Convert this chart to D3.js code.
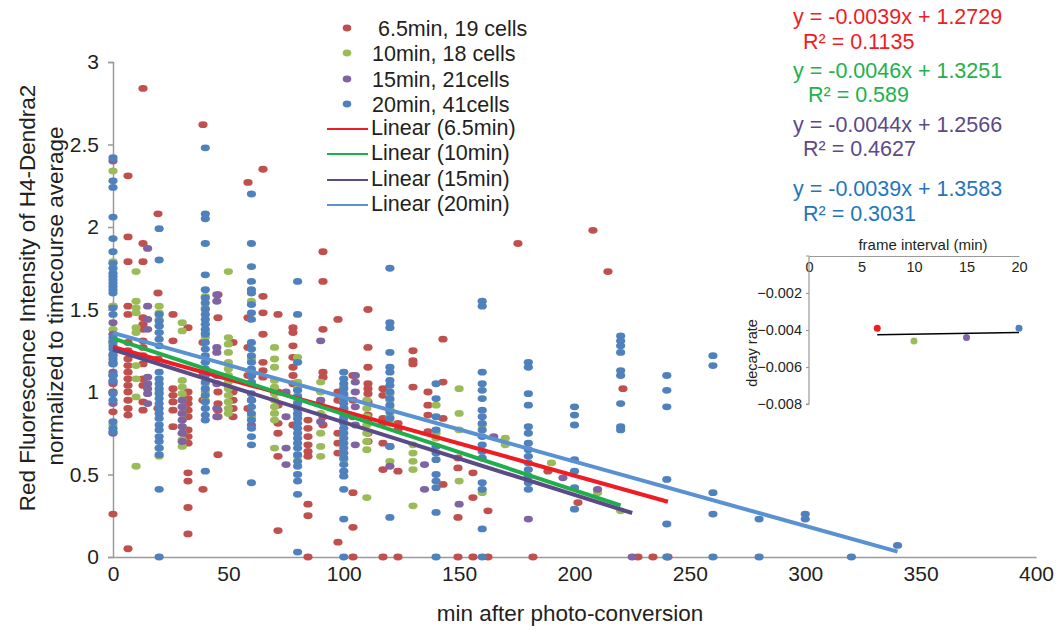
<!DOCTYPE html>
<html><head><meta charset="utf-8">
<script src="https://cdn.jsdelivr.net/npm/d3@7"></script>
<style>
body{margin:0;background:#fff}
text{font-family:"Liberation Sans",Arial,sans-serif;fill:#231f20}
</style>
</head><body>
<svg id="chart" width="1061" height="631"></svg>
<script>
// ---------------- data ----------------
const seriesNames = ["6.5min", "10min", "15min", "20min"];
const legendLabels = ["\u00a06.5min, 19 cells", "10min, 18 cells", "15min, 21cells", "20min, 41cells"];
const trendLabels = ["Linear (6.5min)", "Linear (10min)", "Linear (15min)", "Linear (20min)"];
const slopes = [-0.0039, -0.0046, -0.0044, -0.0039];
const intercepts = [1.2729, 1.3251, 1.2566, 1.3583];
const eqLabels = ["y = -0.0039x + 1.2729", "y = -0.0046x + 1.3251", "y = -0.0044x + 1.2566", "y = -0.0039x + 1.3583"];
const r2Labels = ["R\u00b2 = 0.1135", "R\u00b2 = 0.589", "R\u00b2 = 0.4627", "R\u00b2 = 0.3031"];

const xTicks = [0, 50, 100, 150, 200, 250, 300, 350, 400];
const yTicks = [0, 0.5, 1, 1.5, 2, 2.5, 3];

const times65 = [0, 6.5, 13, 19.5, 26, 32.5, 39, 45.5, 52, 58.5, 65, 71.5, 78, 84.5, 91, 97.5, 104, 110.5, 117, 123.5, 130, 136.5, 143, 149.5, 156, 162.5, 175.5, 182, 188.5, 201.5, 208, 214.5, 221, 227.5, 234, 240.5];
const vals65 = [
  [1.52, 1.3, 1.22, 1.1, 1.05, 0.88, 0.26],
  [2.31, 1.94, 1.79, 1.52, 1.47, 1.3, 1.25, 1.2, 1.16, 1.12, 1.08, 1.04, 1.0, 0.95, 0.9, 0.86, 0.05],
  [2.84, 1.9, 1.79, 1.45, 1.41, 1.38, 1.31, 1.27, 1.22, 1.17, 1.08, 1.04, 0.94, 0.89],
  [2.08, 1.6, 1.2, 0.9],
  [1.47, 1.31, 1.02, 0.98, 0.94, 0.89, 0.79],
  [1.39, 1.0, 0.96, 0.93, 0.89, 0.85, 0.77, 0.73, 0.69, 0.51, 0.46, 0.3, 0.14],
  [2.62, 1.3, 1.1, 0.95, 0.41],
  [1.59, 1.45, 1.0, 0.93, 0.89, 0.85, 0.62],
  [1.3, 1.0, 0.95, 0.9, 0.85],
  [2.27, 1.45, 1.27, 1.1, 0.9],
  [2.35, 1.58, 1.48, 1.35, 1.18, 1.13, 1.09],
  [1.47, 1.0, 0.92, 0.81, 0.75, 0.61, 0.16],
  [1.39, 1.36, 1.28, 1.21, 1.15, 1.1, 1.05, 0.8],
  [0.83, 0.78, 0.73, 0.68, 0.64, 0.61, 0.32, 0.25, 0],
  [1.85, 1.67, 1.38, 1.12, 1.09, 0.85, 0.8],
  [1.44, 1.0, 0.95, 0.75, 0.69, 0.63, 0.09],
  [1.1, 0.95, 0.85, 0.39, 0.18, 0],
  [1.5, 1.27, 1.15, 1.05, 1.02, 0.99, 0.94, 0.86, 0.83, 0.75, 0.7],
  [1.02, 0.98, 0.84, 0.81, 0.69, 0.53, 0],
  [0.81, 0.77, 0.52, 0],
  [1.25, 1.19, 1.17, 1.03],
  [1.0, 0.92, 0.86, 0.76],
  [1.32, 1.06, 0.84, 0.44],
  [0.6, 0.54, 0.24, 0],
  [0.51, 0.36, 0],
  [0.28, 0],
  [1.9],
  [0],
  [0.52],
  [0.33],
  [1.98],
  [1.73],
  [1.02],
  [0],
  [0],
  [0]
];

const times10 = [0, 10, 20, 30, 40, 50, 60, 70, 80, 90, 100, 110, 120, 130, 140, 150, 160, 170, 190, 210, 220];
const vals10 = [
  [2.34, 1.79, 1.52, 1.38, 1.3, 1.17, 1.1, 1.0, 0.8],
  [1.73, 1.55, 1.51, 1.48, 1.39, 1.36, 1.16, 1.08, 0.97, 0.55],
  [1.52, 1.48, 1.44, 1.4, 1.36, 1.0, 0.66, 0.61],
  [1.42, 1.37, 1.07, 1.03, 0.99, 0.95, 0.91, 0.87, 0.83, 0.79, 0.75, 0.71, 0.67],
  [1.58, 1.51, 1.36, 1.33, 1.18, 1.12, 1.05, 1.0, 0.95],
  [1.73, 1.33, 1.29, 1.24, 1.18, 1.14, 1.1, 1.06, 1.02, 0.98, 0.94, 0.9, 0.87],
  [1.55, 1.2, 1.1, 0.95, 0.85],
  [1.27, 1.2, 1.15, 1.07, 1.03, 0.99, 0.95, 0.91, 0.87, 0.83, 0.66],
  [1.21, 1.06, 1.02, 0.98, 0.94, 0.9, 0.86, 0.61],
  [1.06, 1.0, 0.93, 0.87, 0.75, 0.67, 0.61],
  [1.03, 0.98, 0.95, 0.9, 0.85, 0.63, 0.59],
  [0.95, 0.9, 0.85, 0.8, 0.75, 0.7, 0.65, 0.36],
  [0.99, 0.95, 0.9, 0.85, 0.81, 0.58],
  [0.68, 0.63, 0.58, 0.53, 0.31],
  [0.92, 0.75, 0.72],
  [1.02, 0.87, 0.77, 0.46],
  [0.8, 0.39],
  [0.72, 0.68],
  [0.57],
  [0.39],
  [0.28]
];

const times15 = [0, 15, 30, 45, 60, 75, 90, 105, 120, 135, 150, 165, 180, 195, 210, 225];
const vals15 = [
  [2.4, 1.42, 1.35, 1.18, 1.12, 1.06, 1.0, 0.93, 0.75],
  [1.87, 1.52, 1.44, 1.38, 1.09, 1.05, 1.02, 0.99, 0.93],
  [0.95, 0.91, 0.87, 0.83, 0.79, 0.75, 0.7],
  [1.59, 1.55, 1.27, 1.24, 1.1, 1.05, 0.9, 0.85],
  [1.1, 0.95, 0.8],
  [1.0, 0.85, 0.66, 0.56],
  [1.31, 0.95, 0.82],
  [1.1, 1.06, 1.0, 0.91, 0.8, 0.68],
  [0.67, 0.55],
  [0.56, 0.41],
  [0.32],
  [0.73],
  [0.23],
  [0.48],
  [0.41],
  [0]
];

const times20 = [0, 20, 40, 60, 80, 100, 120, 140, 160, 180, 200, 220, 240, 260, 280, 300, 320, 340];
const vals20 = [
  [2.42, 2.28, 2.24, 2.06, 1.93, 1.85, 1.78, 1.75, 1.72, 1.7, 1.68, 1.66, 1.64, 1.62, 1.6, 1.51, 1.47, 1.33, 1.31, 1.28, 1.26, 1.23, 1.2, 1.17, 1.1, 1.07, 0.99, 0.95, 0.82, 0.78, 0.76],
  [1.99, 1.8, 1.47, 1.43, 1.4, 1.36, 1.32, 1.28, 1.12, 1.08, 1.05, 1.02, 0.99, 0.96, 0.93, 0.9, 0.87, 0.84, 0.8, 0.77, 0.73, 0.7, 0.66, 0.62, 0.41, 0],
  [2.48, 2.08, 2.05, 1.9, 1.71, 1.62, 1.57, 1.54, 1.5, 1.47, 1.44, 1.41, 1.38, 1.35, 1.3, 1.26, 1.22, 1.18, 1.14, 1.1, 1.06, 1.02, 0.98, 0.94, 0.9, 0.86, 0.83, 0.52],
  [2.2, 1.9, 1.76, 1.67, 1.62, 1.6, 1.53, 1.48, 1.44, 1.3, 1.26, 1.22, 1.18, 1.14, 1.1, 1.06, 0.99, 0.95, 0.91, 0.87, 0.83, 0.78, 0.73, 0.68, 0.45],
  [1.67, 1.47, 1.18, 1.01, 0.97, 0.93, 0.9, 0.87, 0.84, 0.81, 0.78, 0.75, 0.72, 0.69, 0.66, 0.62, 0.58, 0.55, 0.5, 0.46, 0.38, 0.03],
  [1.12, 1.08, 1.05, 1.02, 0.99, 0.96, 0.93, 0.9, 0.87, 0.84, 0.81, 0.78, 0.75, 0.72, 0.69, 0.66, 0.63, 0.6, 0.56, 0.52, 0.49, 0.41, 0.23, 0],
  [1.75, 1.42, 1.39, 1.24, 1.15, 1.12, 1.07, 1.04, 1.0, 0.96, 0.92, 0.88, 0.84, 0.67, 0.24],
  [1.05, 0.96, 0.85, 0.77, 0.67, 0.63, 0.59, 0.5, 0.46, 0.42, 0.27, 0],
  [1.55, 1.52, 1.12, 1.05, 1.01, 0.96, 0.89, 0.85, 0.81, 0.77, 0.73, 0.68, 0.64, 0.6, 0.45, 0.41, 0.17, 0],
  [1.18, 1.15, 0.99, 0.92, 0.79, 0.75, 0.69, 0.65, 0.61, 0.57, 0.53, 0.49, 0.45, 0.41],
  [0.91, 0.86, 0.8, 0.59, 0.52, 0.42, 0.29],
  [1.34, 1.31, 1.28, 1.24, 1.13, 1.1, 0.93, 0.79, 0.77],
  [1.1, 1.01, 0.91, 0.47, 0.2, 0],
  [1.22, 1.16, 0.39, 0.26, 0],
  [0.23, 0],
  [0.26, 0.23],
  [0],
  [0.07]
];

// inset data: frame interval vs decay rate
const insetIntervals = [6.5, 10, 15, 20];
const insetRates = [-0.0039, -0.0046, -0.0044, -0.0039];
const insetXTicks = [0, 5, 10, 15, 20];
const insetYTicks = [-0.002, -0.004, -0.006, -0.008];

// ---------------- styles ----------------
const FONT = '"Liberation Sans", Arial, sans-serif';
const pointColors = ["#c0504d", "#9bbb59", "#8064a2", "#4f81bd"];
const lineColors = ["#ee1c24", "#1fae4b", "#5b4a86", "#5a91d2"];
const eqColors = ["#ee1c24", "#22b14c", "#5c4a88", "#1f76bc"];
const insetColors = ["#ee1c24", "#9bbb59", "#8064a2", "#4f81bd"];
const axisColor = "#9a9a9a";

const svg = d3.select("#chart");
const x = d3.scaleLinear().domain([0, 400]).range([113, 1036]);
const y = d3.scaleLinear().domain([0, 3]).range([557, 62]);

const allTimes = [times65, times10, times15, times20];
const allVals = [vals65, vals10, vals15, vals20];

// axes
const yAxis = svg.append("g").attr("transform", `translate(${x(0)},0)`)
  .call(d3.axisLeft(y).tickValues(yTicks).tickSize(5).tickPadding(9).tickFormat(d3.format("")));
yAxis.select(".domain").attr("stroke", axisColor).attr("stroke-width", 1.5);
yAxis.selectAll(".tick line").attr("stroke", axisColor).attr("stroke-width", 1.5);
yAxis.selectAll(".tick text").style("font-size", "21px").style("font-family", FONT).attr("fill", "#231f20");

const xAxis = svg.append("g").attr("transform", `translate(0,${y(0)})`)
  .call(d3.axisBottom(x).tickValues(xTicks).tickSize(0).tickPadding(9).tickFormat(d3.format("")));
xAxis.select(".domain").attr("stroke", axisColor).attr("stroke-width", 1.5);
xAxis.selectAll(".tick text").style("font-size", "21px").style("font-family", FONT).attr("fill", "#231f20");

// points
allTimes.forEach((times, si) => {
  const pts = [];
  times.forEach((t, i) => allVals[si][i].forEach(v => pts.push([t, v])));
  svg.append("g").selectAll("ellipse").data(pts).join("ellipse")
    .attr("cx", d => x(d[0])).attr("cy", d => y(d[1]))
    .attr("rx", 4.6).attr("ry", 3.4)
    .attr("fill", pointColors[si]);
});

// trend lines
allTimes.forEach((times, si) => {
  const x0 = d3.min(times), x1 = d3.max(times);
  svg.append("line")
    .attr("x1", x(x0)).attr("y1", y(intercepts[si] + slopes[si] * x0))
    .attr("x2", x(x1)).attr("y2", y(intercepts[si] + slopes[si] * x1))
    .attr("stroke", lineColors[si]).attr("stroke-width", 4);
});

// axis titles
svg.append("text").attr("transform", "translate(27,298) rotate(-90)")
  .attr("text-anchor", "middle").attr("dominant-baseline", "central")
  .style("font-size", "22.5px").text("Red Fluorescence Intensity of H4-Dendra2");
svg.append("text").attr("transform", "translate(55,296) rotate(-90)")
  .attr("text-anchor", "middle").attr("dominant-baseline", "central")
  .style("font-size", "22.5px").text("normalized to timecourse average");
svg.append("text").attr("x", 570).attr("y", 613).attr("dy", "0.36em").attr("text-anchor", "middle")
  .style("font-size", "22.5px").text("min after photo-conversion");

// legend
const legendMarkerY = [28, 53, 79, 104];
const legendLineY = [129, 154, 180, 205];
const lg = svg.append("g");
legendLabels.forEach((lab, i) => {
  lg.append("ellipse").attr("cx", 347).attr("cy", legendMarkerY[i]).attr("rx", 4.3).attr("ry", 3.4).attr("fill", pointColors[i]);
  lg.append("text").attr("x", 372).attr("y", legendMarkerY[i]).attr("dy", "0.36em")
    .style("font-size", "21.5px").text(lab);
});
trendLabels.forEach((lab, i) => {
  lg.append("line").attr("x1", 327).attr("x2", 368).attr("y1", legendLineY[i]).attr("y2", legendLineY[i])
    .attr("stroke", lineColors[i]).attr("stroke-width", 2);
  lg.append("text").attr("x", 371).attr("y", legendLineY[i] - 2).attr("dy", "0.36em")
    .style("font-size", "21.5px").text(lab);
});

// equations
const eqY = [16, 70, 124, 188];
const r2Y = [41, 94, 148, 213];
const r2X = [803, 808, 803, 803];
eqLabels.forEach((lab, i) => {
  svg.append("text").attr("x", 793).attr("y", eqY[i]).attr("dy", "0.36em")
    .style("font-size", "21.5px").style("fill", eqColors[i]).text(lab);
  svg.append("text").attr("x", r2X[i]).attr("y", r2Y[i]).attr("dy", "0.36em")
    .style("font-size", "21.5px").style("fill", eqColors[i]).text(r2Labels[i]);
});

// inset
const ix = d3.scaleLinear().domain([0, 20]).range([809, 1019]);
const iy = d3.scaleLinear().domain([0, -0.008]).range([256, 404]);
const ixAxis = svg.append("g").attr("transform", `translate(0,${iy(0)})`)
  .call(d3.axisBottom(ix).tickValues(insetXTicks).tickSize(0).tickPadding(6).tickFormat(d3.format("")));
ixAxis.select(".domain").attr("stroke", axisColor).attr("stroke-width", 1.2);
ixAxis.selectAll(".tick text").style("font-size", "14.5px").style("font-family", FONT).attr("fill", "#231f20");
const iyAxis = svg.append("g").attr("transform", `translate(${ix(0)},0)`)
  .call(d3.axisLeft(iy).tickValues(insetYTicks).tickSize(3).tickPadding(4).tickFormat(d3.format("")));
iyAxis.select(".domain").attr("stroke", axisColor).attr("stroke-width", 1.2)
  .attr("d", `M-3,${iy(0)}H0V${iy(-0.008)}H-3`);
iyAxis.selectAll(".tick line").attr("stroke", axisColor).attr("stroke-width", 1.2);
iyAxis.selectAll(".tick text").style("font-size", "14.5px").style("font-family", FONT).attr("fill", "#231f20");
svg.append("text").attr("x", 923).attr("y", 245).attr("dy", "0.36em").attr("text-anchor", "middle")
  .style("font-size", "15px").text("frame interval (min)");
svg.append("text").attr("transform", "translate(752,353) rotate(-90)").attr("text-anchor", "middle")
  .attr("dominant-baseline", "central").style("font-size", "14.5px").text("decay rate");

// inset linear fit
const mx = d3.mean(insetIntervals), my = d3.mean(insetRates);
const sxy = d3.sum(insetIntervals, (v, i) => (v - mx) * (insetRates[i] - my));
const sxx = d3.sum(insetIntervals, v => (v - mx) * (v - mx));
const b = sxy / sxx, a = my - b * mx;
const xa = d3.min(insetIntervals), xb = d3.max(insetIntervals);
svg.append("line").attr("x1", ix(xa)).attr("y1", iy(a + b * xa)).attr("x2", ix(xb)).attr("y2", iy(a + b * xb))
  .attr("stroke", "#000").attr("stroke-width", 1.5);
svg.append("g").selectAll("circle").data(insetIntervals).join("circle")
  .attr("cx", d => ix(d)).attr("cy", (d, i) => iy(insetRates[i])).attr("r", 3.5)
  .attr("fill", (d, i) => insetColors[i]);
</script>
</body></html>
